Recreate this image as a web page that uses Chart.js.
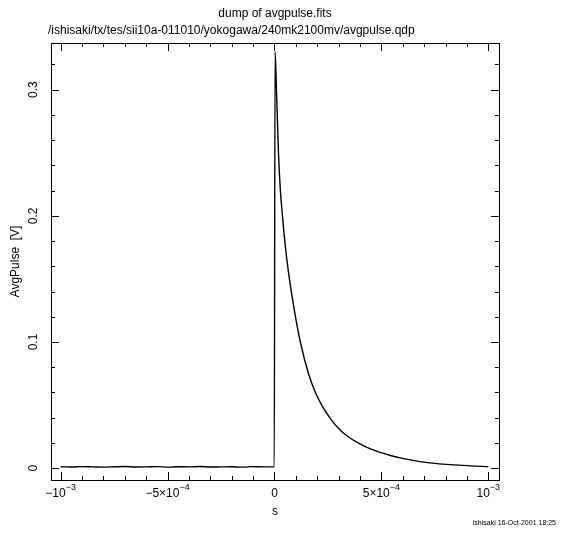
<!DOCTYPE html>
<html>
<head>
<meta charset="utf-8">
<script src="https://cdn.jsdelivr.net/npm/chart.js@4/dist/chart.umd.min.js"></script>
<style>
  body { margin: 0; background: #fff; }
  #wrap { width: 564px; height: 536px; }
</style>
</head>
<body>
<div id="wrap"><canvas id="avgpulse" width="564" height="536"></canvas></div>
<script>
// time [s] and averaged pulse [V]
var time = [
  -1.0e-3, -9.5e-4, -9.0e-4, -8.5e-4, -8.0e-4, -7.5e-4, -7.0e-4, -6.5e-4, -6.0e-4, -5.5e-4,
  -5.0e-4, -4.5e-4, -4.0e-4, -3.5e-4, -3.0e-4, -2.5e-4, -2.0e-4, -1.5e-4, -1.0e-4, -5.0e-5,
  -1.0e-6, 2.8e-6, 9.3e-6, 1.87e-5, 2.7e-5, 3.74e-5, 5.2e-5, 7.0e-5, 9.5e-5, 1.21e-4,
  1.59e-4, 1.9e-4, 2.24e-4, 2.65e-4, 3.08e-4, 3.5e-4, 3.93e-4, 4.49e-4, 5.42e-4, 6.04e-4,
  6.8e-4, 7.6e-4, 8.4e-4, 9.16e-4, 1.0e-3
];
var avgPulse = [
  0.0011, 0.0009, 0.0012, 0.0010, 0.0008, 0.0011, 0.0013, 0.0009, 0.0010, 0.0012,
  0.0008, 0.0011, 0.0010, 0.0013, 0.0009, 0.0010, 0.0011, 0.0008, 0.0012, 0.0010,
  0.0011, 0.330, 0.300, 0.250, 0.222, 0.200, 0.174, 0.150, 0.123, 0.100,
  0.075, 0.0605, 0.049, 0.0385, 0.030, 0.0243, 0.0198, 0.0152, 0.0100, 0.0075,
  0.0052, 0.0036, 0.0026, 0.0018, 0.0012
];

// tick labels
var xTicks = [-1e-3, -5e-4, 0, 5e-4, 1e-3];
var xTickBase = ['\u221210', '\u22125\u00d710', '0', '5\u00d710', '10'];
var xTickExp = ['\u22123', '\u22124', '', '\u22124', '\u22123'];
var yTicks = [0, 0.1, 0.2, 0.3];
var yTickLabels = ['0', '0.1', '0.2', '0.3'];

var title = 'dump of avgpulse.fits';
var subtitle = '/ishisaki/tx/tes/sii10a-011010/yokogawa/240mk2100mv/avgpulse.qdp';
var footer = 'ishisaki 16-Oct-2001 18:25';

var points = time.map(function (t, i) { return { x: t, y: avgPulse[i] }; });

var FONT = '"Liberation Sans", "DejaVu Sans", sans-serif';

// frame, inward ticks on all four sides, labels
var qdpAxes = {
  id: 'qdpAxes',
  afterDraw: function (chart) {
    var ctx = chart.ctx;
    var a = chart.chartArea;
    var xs = chart.scales.x, ys = chart.scales.y;
    ctx.save();
    ctx.strokeStyle = '#000';
    ctx.lineWidth = 1;
    ctx.strokeRect(Math.round(a.left) + 0.5, Math.round(a.top) + 0.5,
                   Math.round(a.right - a.left), Math.round(a.bottom - a.top));

    ctx.beginPath();
    // x ticks, minor every 1e-4
    for (var k = -10; k <= 10; k++) {
      var px = Math.round(xs.getPixelForValue(k * 1e-4)) + 0.5;
      var len = (k % 5 === 0) ? 8 : 4;
      ctx.moveTo(px, a.bottom); ctx.lineTo(px, a.bottom - len);
      ctx.moveTo(px, a.top); ctx.lineTo(px, a.top + len);
    }
    // y ticks, minor every 0.02
    for (var j = 0; j <= 16; j++) {
      var py = Math.round(ys.getPixelForValue(j * 0.02)) + 0.5;
      var ylen = (j % 5 === 0) ? 8 : 4;
      ctx.moveTo(a.left, py); ctx.lineTo(a.left + ylen, py);
      ctx.moveTo(a.right, py); ctx.lineTo(a.right - ylen, py);
    }
    ctx.stroke();

    ctx.fillStyle = '#000';
    // x tick labels with exponents
    xTicks.forEach(function (v, i) {
      var cx = xs.getPixelForValue(v);
      ctx.font = '12px ' + FONT;
      var wb = ctx.measureText(xTickBase[i]).width;
      ctx.font = '9px ' + FONT;
      var we = xTickExp[i] ? ctx.measureText(xTickExp[i]).width : 0;
      var x0 = cx - (wb + we) / 2;
      ctx.textAlign = 'left';
      ctx.textBaseline = 'alphabetic';
      ctx.font = '12px ' + FONT;
      ctx.fillText(xTickBase[i], x0, 497);
      if (xTickExp[i]) {
        ctx.font = '9px ' + FONT;
        ctx.fillText(xTickExp[i], x0 + wb, 490);
      }
    });

    // y tick labels, rotated
    ctx.font = '12px ' + FONT;
    ctx.textAlign = 'center';
    ctx.textBaseline = 'middle';
    yTicks.forEach(function (v, i) {
      var py = ys.getPixelForValue(v);
      ctx.save();
      ctx.translate(34, py);
      ctx.rotate(-Math.PI / 2);
      ctx.fillText(yTickLabels[i], 0, 0);
      ctx.restore();
    });

    // axis titles
    ctx.font = '12px ' + FONT;
    ctx.fillText('s', (a.left + a.right) / 2, 512);
    ctx.save();
    ctx.translate(16, (a.top + a.bottom) / 2);
    ctx.rotate(-Math.PI / 2);
    ctx.fillText('AvgPulse  [V]', 0, 0);
    ctx.restore();

    // titles
    ctx.font = '12px ' + FONT;
    ctx.fillText(title, (a.left + a.right) / 2, 14);
    ctx.textAlign = 'left';
    ctx.fillText(subtitle, 48, 31);

    // footer
    ctx.font = '7px ' + FONT;
    ctx.textAlign = 'right';
    ctx.fillText(footer, 556, 523);
    ctx.restore();
  }
};

var hidden = {
  type: 'linear',
  grid: { display: false },
  border: { display: false },
  ticks: { display: false }
};

new Chart(document.getElementById('avgpulse'), {
  type: 'line',
  data: {
    datasets: [{
      data: points,
      borderColor: '#000',
      borderWidth: 1.4,
      borderJoinStyle: 'round',
      pointRadius: 0,
      cubicInterpolationMode: 'monotone',
      fill: false
    }]
  },
  plugins: [qdpAxes],
  options: {
    responsive: false,
    devicePixelRatio: 1,
    animation: false,
    layout: { padding: { left: 51, right: 65, top: 43, bottom: 56 } },
    plugins: { legend: { display: false }, tooltip: { enabled: false } },
    scales: {
      x: Object.assign({}, hidden, {
        min: -1.045e-3, max: 1.05e-3,
        afterFit: function (s) { s.height = 0; }
      }),
      y: Object.assign({}, hidden, {
        min: -0.0094, max: 0.337,
        afterFit: function (s) { s.width = 0; }
      })
    }
  }
});
</script>
</body>
</html>
